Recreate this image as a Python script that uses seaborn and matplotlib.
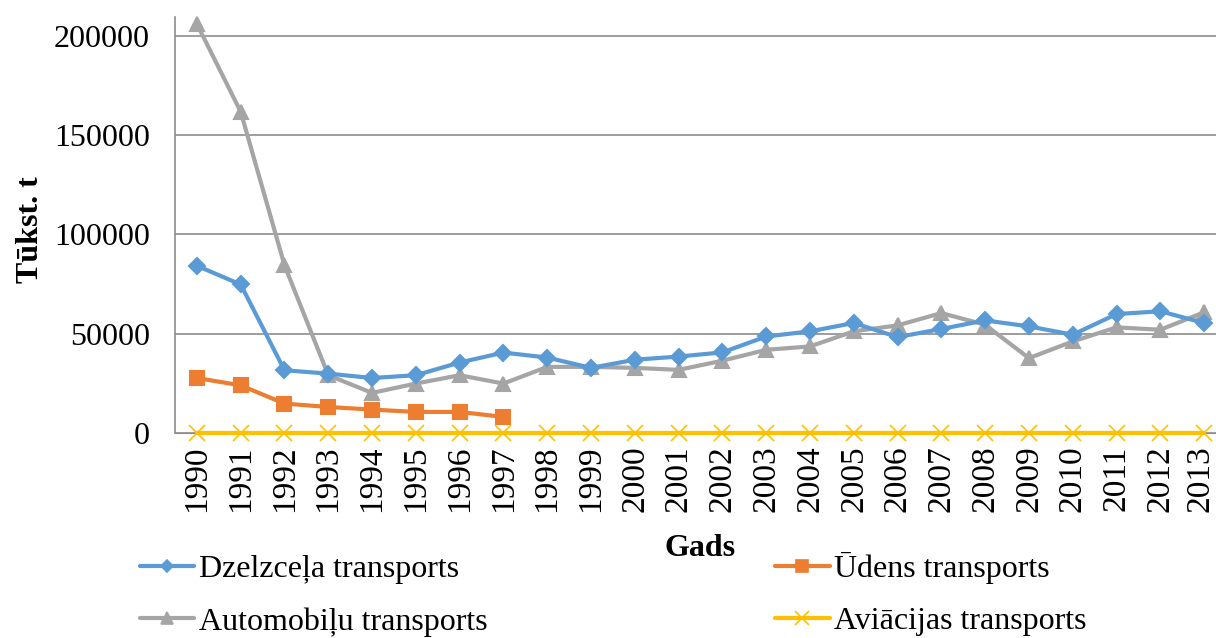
import numpy as np
import pandas as pd
import matplotlib
matplotlib.use("Agg")
import matplotlib.pyplot as plt
import matplotlib.transforms as mtransforms
import seaborn as sns
from matplotlib.lines import Line2D

years = [str(y) for y in range(1990, 2014)]
rail = [84200, 74800, 31600, 29900, 27700, 29100, 35500, 40500, 38000, 32800,
        36900, 38500, 40600, 48600, 51200, 55400, 48300, 52400, 56700, 53700,
        49500, 59900, 61300, 55400]
water = [27700, 24000, 14800, 13100, 11800, 10600, 10600, 8100] + [np.nan] * 16
road = [206000, 161800, 84500, 29100, 20200, 24900, 29100, 24900, 33300, 33300,
        32800, 31800, 36400, 41900, 43600, 51200, 54200, 60400, 54500, 37700,
        46100, 53200, 52000, 60800]
air = [30, 30, 20, 20, 20, 20, 20, 20, 20, 20, 20, 20, 20, 20, 30, 30, 30, 30,
       30, 30, 30, 30, 30, 30]

names = ["Dzelzceļa transports", "Automobiļu transports", "Ūdens transports", "Aviācijas transports"]
series = {names[0]: rail, names[1]: road, names[2]: water, names[3]: air}
colors = {names[0]: "#5B9BD5", names[1]: "#A5A5A5", names[2]: "#ED7D31", names[3]: "#FFC000"}
markers = {names[0]: "D", names[1]: "^", names[2]: "s", names[3]: "x"}
msizes = {names[0]: 8, names[1]: 10, names[2]: 10, names[3]: 12}
zorders = {names[0]: 3, names[1]: 2, names[2]: 3, names[3]: 4}

sns.set_style("white")
plt.rcParams["font.family"] = ["Liberation Serif", "DejaVu Serif"]
plt.rcParams["text.color"] = "black"
plt.rcParams["axes.labelcolor"] = "black"
plt.rcParams["xtick.color"] = "black"
plt.rcParams["ytick.color"] = "black"

fig = plt.figure(figsize=(12.16, 6.38), dpi=100)
ax = fig.add_axes([175 / 1216, (638 - 433) / 638, (1226 - 175) / 1216, (433 - 17) / 638])

for n in [names[1], names[0], names[2], names[3]]:
    d = pd.DataFrame({"idx": range(len(years)), "value": series[n]}).dropna()
    sns.lineplot(data=d, x="idx", y="value", color=colors[n], marker=markers[n],
                 markersize=msizes[n], markeredgewidth=1.5 if n != names[3] else 1.2,
                 markeredgecolor=colors[n], markerfacecolor=colors[n],
                 linewidth=3, ax=ax, zorder=zorders[n], clip_on=False)

ax.set_xlim(-0.5, 23.5)
ax.set_ylim(0, 209500)
ax.set_yticks([0, 50000, 100000, 150000, 200000])
ax.set_yticklabels(["0", "50000", "100000", "150000", "200000"], fontsize=23)
ax.yaxis.grid(True, color="#8c8c8c", linewidth=1.2)
ax.set_axisbelow(True)
ax.set_xticks(range(24))
ax.set_xticklabels(years, rotation=90, fontsize=24)
ax.set_xticks(np.arange(-0.5, 24, 1), minor=True)
ax.tick_params(axis="x", which="major", length=0, pad=9)
ax.tick_params(axis="x", which="minor", length=8, color="#8c8c8c", width=1.2, direction="out")
ax.tick_params(axis="y", length=6, color="#8c8c8c", width=1.2, pad=12, direction="out")
for s in ["top", "right"]:
    ax.spines[s].set_visible(False)
ax.spines["left"].set_color("#8c8c8c")
ax.spines["bottom"].set_color("#8c8c8c")
ax.spines["left"].set_linewidth(1.2)

ax.set_xlabel("Gads", fontsize=23, fontweight="bold", labelpad=16)
ax.set_ylabel("Tūkst. t", fontsize=23, fontweight="bold")
ax.yaxis.set_label_coords(-0.124, 0.49)

leg_order = [names[0], names[1], names[2], names[3]]
handles = [Line2D([], [], color=colors[n], marker=markers[n], linewidth=3,
                  markersize=msizes[n] * 0.8, markeredgewidth=1.2,
                  markeredgecolor=colors[n], markerfacecolor=colors[n]) for n in leg_order]
fig.legend(handles, leg_order, ncol=2, loc="upper left", bbox_to_anchor=(140 / 1216, 1 - 552 / 638),
           frameon=False, fontsize=23, handlelength=1.7, handletextpad=0.15,
           columnspacing=9.0, labelspacing=0.72, borderaxespad=0, borderpad=0)

fig.canvas.draw()
last = ax.xaxis.get_major_ticks()[-1].label1
last.set_transform(last.get_transform() + mtransforms.ScaledTranslation(-4 / 100, 0, fig.dpi_scale_trans))

fig.savefig("out.png", dpi=100)
